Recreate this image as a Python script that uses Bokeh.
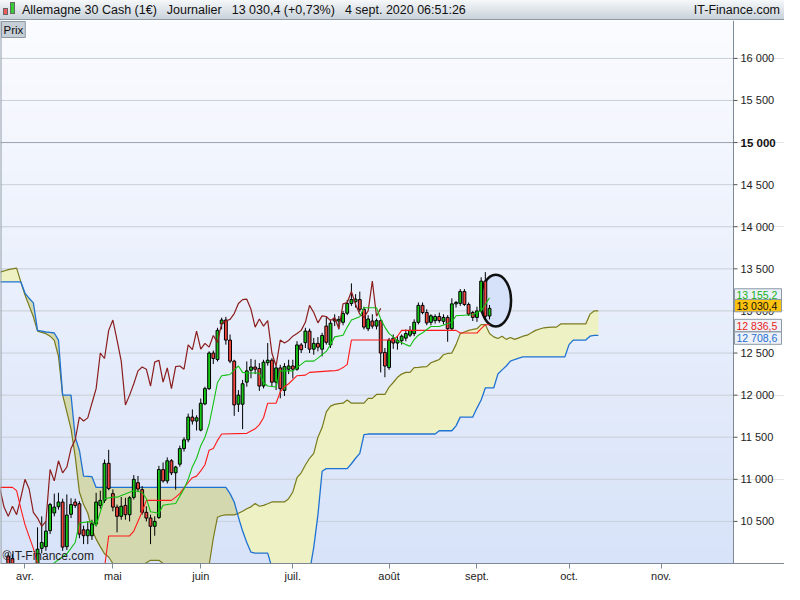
import numpy as np

from bokeh.core.properties import value
from bokeh.embed import file_html
from bokeh.layouts import column
from bokeh.models import ColumnDataSource, Div, FixedTicker, Label, Range1d
from bokeh.plotting import figure
from bokeh.resources import INLINE

FONT = "Liberation Sans"

# session index: 0 = 1 April 2020, one step per trading day
first_idx = -5

opens = [
    9700, 10090, 10060, 9650, 9820, 9900, 9550, 9600, 9800, 10180,
    10200, 10390, 10600, 10675, 10730, 10200, 10585, 10730, 10710, 10400,
    10330, 10330, 10470, 10690, 10750, 11190, 10830, 10670, 10560, 10690,
    10580, 10785, 10960, 10877, 10608, 10540, 10442, 10546, 11116, 10981,
    11220, 11077, 11180, 11365, 11469, 11739, 11692, 11585, 11896, 12077,
    12500, 12423, 12846, 12892, 12654, 12404, 11892, 11892, 12154, 12296,
    12334, 12316, 12108, 12385, 12415, 12154, 12323, 12057, 12308, 12346,
    12308, 12596, 12623, 12761, 12546, 12615, 12546, 12820, 12596, 12900,
    12880, 12865, 12973, 13089, 13110, 13135, 13019, 12789, 12880, 12820,
    12885, 12508, 12327, 12677, 12619, 12646, 12677, 12712, 12731, 12865,
    13066, 12981, 12865, 12885, 12934, 12877, 12923, 12789, 13084, 13090,
    13231, 13077, 12981, 12923, 13000, 13354, 12940,
]
highs = [
    9990, 10130, 10110, 9900, 10000, 9950, 9700, 9700, 10430, 10560,
    10500, 10720, 10830, 10840, 10770, 10820, 10775, 10770, 10740, 10450,
    10500, 10520, 10840, 10865, 11235, 11350, 10880, 10700, 10790, 10780,
    10800, 11050, 11040, 10920, 10680, 10580, 10560, 11160, 11200, 11260,
    11240, 11160, 11400, 11500, 11780, 11830, 11760, 11960, 12100, 12520,
    12530, 12800, 12920, 12930, 12720, 12420, 12060, 12180, 12400, 12430,
    12420, 12380, 12420, 12619, 12440, 12350, 12360, 12380, 12420, 12420,
    12640, 12620, 12800, 12790, 12680, 12690, 12740, 12930, 12900, 12960,
    12940, 13000, 13130, 13327, 13200, 13230, 13050, 12950, 12960, 12910,
    12900, 12560, 12680, 12720, 12700, 12720, 12780, 12820, 12900, 13100,
    13100, 13020, 12960, 12960, 12980, 12960, 12950, 13150, 13120, 13260,
    13260, 13100, 13000, 13050, 13400, 13461, 13070,
]
lows = [
    9550, 9800, 9580, 9550, 9750, 9400, 9400, 9400, 9750, 10120,
    10150, 10350, 10560, 10640, 10150, 10160, 10540, 10660, 10300, 10230,
    10230, 10280, 10440, 10650, 10720, 10870, 10620, 10370, 10520, 10520,
    10500, 10760, 10850, 10580, 10500, 10230, 10330, 10530, 10960, 10950,
    11050, 10877, 11150, 11330, 11440, 11650, 11580, 11570, 11880, 12060,
    12370, 12400, 12780, 12600, 12380, 11754, 11800, 11596, 12100, 12200,
    12250, 12050, 12080, 12350, 12100, 12060, 11962, 11990, 12250, 12200,
    12290, 12500, 12560, 12500, 12480, 12520, 12460, 12600, 12560, 12820,
    12780, 12830, 12950, 13060, 13040, 12990, 12780, 12760, 12790, 12780,
    12270, 12212, 12300, 12550, 12540, 12600, 12640, 12690, 12700, 12840,
    12960, 12830, 12830, 12850, 12860, 12840, 12634, 12770, 13040, 13060,
    13060, 12940, 12880, 12870, 12980, 12900, 12900,
]
closes = [
    9900, 9950, 9620, 9820, 9940, 9550, 9600, 9500, 10170, 10250,
    10385, 10700, 10670, 10730, 10195, 10575, 10700, 10690, 10350, 10330,
    10400, 10470, 10730, 10750, 11190, 10890, 10670, 10560, 10680, 10580,
    10780, 11000, 10885, 10608, 10540, 10442, 10500, 11116, 10981, 11220,
    11077, 11146, 11365, 11469, 11739, 11692, 11730, 11904, 12077, 12500,
    12435, 12769, 12892, 12654, 12404, 11884, 12000, 12135, 12288, 12334,
    12308, 12108, 12392, 12415, 12154, 12323, 12077, 12339, 12346, 12308,
    12596, 12540, 12761, 12546, 12615, 12570, 12708, 12627, 12854, 12880,
    12900, 12969, 13089, 13135, 13140, 13019, 12808, 12904, 12820, 12885,
    12500, 12346, 12654, 12619, 12650, 12700, 12731, 12769, 12865, 13066,
    12981, 12858, 12942, 12934, 12885, 12923, 12789, 13084, 13100, 13231,
    13077, 12962, 12923, 13000, 13354, 12936.6, 13030.4,
]

# Tenkan-sen (green)
tenkan_idx = [
    4, 10, 12, 13, 16, 17, 18, 19, 21, 22, 25, 26, 28, 29, 30, 32, 33, 34, 36, 37,
    38, 39, 40, 41, 42, 43, 44, 45, 46, 47, 48, 49, 50, 51, 52, 53, 56, 57, 58, 60,
    61, 64, 66, 67, 69, 70, 71, 72, 73, 74, 76, 77, 78, 80, 81, 84, 85, 86, 87, 88,
    89, 91, 92, 93, 94, 95, 96, 97, 99, 102, 103, 107, 108, 109, 110, 111,
]
tenkan_val = [
    9900, 10115, 10250, 10481, 10500, 10450, 10615, 10770, 10788, 10788,
    10846, 10865, 10846, 10770, 10615, 10597, 10692, 10700, 10712, 10800,
    10885, 11000, 11150, 11250, 11400, 11500, 11654, 11900, 12150, 12231,
    12238, 12245, 12300, 12346, 12270, 12262, 12262, 12150, 12108, 12096,
    12288, 12288, 12365, 12404, 12404, 12440, 12481, 12519, 12600, 12692,
    12712, 12808, 12893, 12931, 13038, 13038, 12904, 12808, 12731, 12692,
    12646, 12600, 12580, 12660, 12712, 12740, 12780, 12815, 12815, 12865,
    12942, 12954, 12981, 13000, 13077, 13155.2,
]

# Kijun-sen (red)
kijun_idx = [
    -6, -3, -2, -1, 0, 1, 2, 3, 4, 18, 19, 20, 25, 26, 28, 29, 35, 36, 37, 38,
    39, 40, 41, 42, 43, 44, 45, 46, 47, 53, 55, 56, 57, 58, 60, 61, 62, 63, 65, 67,
    68, 73, 74, 75, 76, 77, 78, 88, 89, 90, 103, 104, 108, 109, 110, 111,
]
kijun_val = [
    10904, 10904, 10865, 10654, 10462, 10320, 10180, 10000, 9850, 9850,
    9950, 10327, 10327, 10385, 10615, 10750, 10750, 10788, 10830, 10900,
    10962, 11019, 11038, 11100, 11173, 11346, 11365, 11462, 11538, 11546,
    11600, 11650, 11731, 11904, 11904, 12039, 12100, 12135, 12231, 12238,
    12270, 12288, 12290, 12300, 12327, 12365, 12654, 12654, 12700, 12769,
    12769, 12738, 12738, 12790, 12836.5, 12836.5,
]

# Senkou spans, already shifted 26 sessions ahead (index -6 .. 137)
cloud_first = -6
span_a = [
    13462, 13475, 13490, 13500, 13508, 13346,
    13190, 13060, 12930, 12760, 12745, 12730, 12700, 12650, 12462, 12000,
    11800, 11600, 11269, 10850, 10700, 10600, 10400, 10290, 10200, 10115,
    10077, 10000, 9950, 9940, 9940, 9940, 9950, 9960, 9980, 10010,
    10038, 10038, 10038, 10000, 9950, 9900, 9900, 9900, 9900, 9900,
    9900, 9900, 9900, 9900, 9980, 10300, 10550, 10570, 10577, 10577,
    10577, 10596, 10620, 10650, 10673, 10712, 10680, 10690, 10710, 10731,
    10731, 10731, 10731, 10770, 10850, 11019, 11077, 11170, 11250, 11308,
    11500, 11615, 11800, 11870, 11890, 11900, 11904, 11942, 11904, 11904,
    11904, 11904, 11962, 11962, 12008, 12008, 12008, 12096, 12150, 12212,
    12250, 12270, 12270, 12327, 12330, 12335, 12339, 12385, 12404, 12423,
    12480, 12495, 12500, 12600, 12731, 12750, 12769, 12780, 12789, 12838,
    12838, 12731, 12692, 12673, 12700, 12662, 12685, 12662, 12680, 12700,
    12712, 12740, 12769, 12785, 12800, 12805, 12808, 12808, 12846, 12846,
    12846, 12846, 12846, 12846, 12846, 12962, 13000, 13000,
]
span_b = [
    13346, 13346, 13346, 13346, 13346, 13346,
    13212, 13150, 13096, 12769, 12760, 12750, 12745, 12738, 12654, 12000,
    12000, 12000, 11500, 11346, 11038, 11035, 11031, 10904, 10904, 10904,
    10904, 10904, 10904, 10904, 10904, 10904, 10904, 10904, 10904, 10904,
    10904, 10904, 10904, 10904, 10904, 10904, 10904, 10904, 10904, 10904,
    10904, 10904, 10904, 10904, 10904, 10904, 10904, 10904, 10904, 10830,
    10731, 10550, 10385, 10250, 10135, 10123, 10123, 10123, 10123, 9950,
    9900, 9900, 9900, 9900, 9900, 9900, 9900, 9900, 9900, 10192,
    10577, 11096, 11127, 11127, 11127, 11127, 11127, 11127, 11185, 11250,
    11308, 11531, 11538, 11538, 11538, 11538, 11538, 11538, 11538, 11538,
    11538, 11538, 11538, 11538, 11538, 11538, 11538, 11538, 11538, 11577,
    11577, 11577, 11577, 11635, 11739, 11739, 11739, 11739, 11846, 11942,
    12085, 12085, 12085, 12250, 12300, 12346, 12404, 12423, 12440, 12454,
    12454, 12454, 12454, 12454, 12454, 12454, 12454, 12454, 12454, 12454,
    12600, 12654, 12654, 12654, 12654, 12700, 12708.6, 12708.6,
]

chikou_shift = 26

y_ticks = [10500, 11000, 11500, 12000, 12500, 13000, 13500, 14000, 14500, 15000, 15500, 16000]
major_level = 15000
month_idx = [0, 21, 42, 64, 87, 108, 130, 152]
month_labels = ["avr.", "mai", "juin", "juil.", "août", "sept.", "oct.", "nov."]

# highlight drawn round the last sessions
ring_x, ring_y, ring_w, ring_h = 112.5, 13123, 7.3, 615


def fr(v, dec=0):
    s = f"{v:,.{dec}f}"
    return s.replace(",", " ").replace(".", ",")


W, H = 784, 564
px = 4.185                      # pixels per session
x_lo, x_main = -5.85, 169.3     # price area; the rest is the price scale
x_hi = x_lo + W / px
y_lo, y_hi = 10000, 16450
pt = (y_hi - y_lo) / 544        # price units per pixel

p = figure(
    width=W, height=H,
    x_range=Range1d(x_lo, x_hi), y_range=Range1d(y_lo, y_hi),
    y_axis_location=None,
    output_backend="svg", toolbar_location=None,
    min_border_left=0, min_border_right=0, min_border_top=0, min_border_bottom=20,
    border_fill_color="white", background_fill_color="white", outline_line_color=None,
)

# soft vertical gradient behind the price area
ny = 200
t = np.linspace(0, 1, ny)[:, None]
c_bot = np.array([0xd8, 0xe3, 0xf9])
c_top = np.array([0xfb, 0xfc, 0xff])
rgb = c_bot * (1 - t) + c_top * t
img = np.empty((ny, 1), dtype=np.uint32)
view = img.view(dtype=np.uint8).reshape((ny, 1, 4))
view[:, 0, :3] = rgb.astype(np.uint8)
view[:, 0, 3] = 255
p.image_rgba(image=[img], x=x_lo, y=y_lo, dw=x_main - x_lo, dh=y_hi - y_lo, level="image")

# x axis (months)
p.xaxis.ticker = FixedTicker(ticks=month_idx)
p.xaxis.major_label_overrides = dict(zip(month_idx, month_labels))
p.xaxis.major_label_text_font = FONT
p.xaxis.major_label_text_font_size = "11px"
p.xaxis.major_label_text_color = "#222222"
p.xaxis.major_tick_in = 0
p.xaxis.major_tick_out = 5
p.xaxis.major_label_standoff = 1
p.xaxis.minor_tick_line_color = None
p.xaxis.axis_line_color = "#7d8a96"
p.xaxis.major_tick_line_color = "#7d8a96"
p.xgrid.visible = False

# horizontal grid over the price area only
grid_col = ["#9aa3ad" if v == major_level else "#c9d0da" for v in y_ticks]
p.segment(x0=x_lo, x1=x_main, y0=y_ticks, y1=y_ticks, line_color=grid_col, line_width=1)

# cloud
cx = np.arange(cloud_first, cloud_first + len(span_a))
sa = np.array(span_a, dtype=float)
sb = np.array(span_b, dtype=float)
top = np.maximum(sa, sb)
p.varea(x=cx, y1=sb, y2=top, fill_color="#eef1c0", fill_alpha=0.95)
p.varea(x=cx, y1=sa, y2=top, fill_color="#d3d7aa", fill_alpha=0.95)
p.line(cx, sa, line_color="#7a7a1c", line_width=1.2)
p.line(cx, sb, line_color="#1f72d2", line_width=1.3)

# highlight ring
p.ellipse(x=[ring_x], y=[ring_y], width=[ring_w], height=[ring_h],
          fill_color="#d4dffa", fill_alpha=0.9, line_color="#111111", line_width=2.5)

# candles
idx = np.arange(first_idx, first_idx + len(closes))
o = np.array(opens, dtype=float)
h = np.array(highs, dtype=float)
lo = np.array(lows, dtype=float)
c = np.array(closes, dtype=float)
up = c >= o
for mask, colour in ((up, "#16c816"), (~up, "#f2463f")):
    src = ColumnDataSource(dict(x=idx[mask], high=h[mask], low=lo[mask],
                                top=np.maximum(o, c)[mask], bottom=np.minimum(o, c)[mask]))
    p.segment(x0="x", y0="low", x1="x", y1="high", source=src, line_color="black", line_width=1)
    p.vbar(x="x", width=0.68, top="top", bottom="bottom", source=src,
           fill_color=colour, line_color="black", line_width=1)

# Chikou span: closes moved back 26 sessions
p.line(idx - chikou_shift, c, line_color="#8b1d1d", line_width=1.2)
p.line(kijun_idx, kijun_val, line_color="#ff1a1a", line_width=1.1)
p.line(tenkan_idx, tenkan_val, line_color="#12c012", line_width=1.1)

# left border and price scale drawn by hand
p.segment(x0=x_lo, x1=x_lo, y0=y_lo, y1=y_hi, line_color="#8d9aa6", line_width=2)
p.segment(x0=x_main, x1=x_main, y0=y_lo, y1=y_hi, line_color="#7d8a96", line_width=1)
p.segment(x0=x_main, x1=x_main + 4 / px, y0=y_ticks, y1=y_ticks, line_color="#555555")
plain = [v for v in y_ticks if v != major_level]
p.text(x=x_main + 7 / px, y=plain, text=[fr(v) for v in plain],
       text_font=value(FONT), text_font_size="11px", text_color="#222222",
       text_baseline="middle", text_align="left")
p.text(x=[x_main + 7 / px], y=[major_level], text=[fr(major_level)],
       text_font=value(FONT), text_font_size="11.5px", text_font_style="bold",
       text_color="#111111", text_baseline="middle", text_align="left")

# right-hand price tags (position nudged so they do not overlap)
tag_val = [tenkan_val[-1], closes[-1], kijun_val[-1], span_b[-1]]
tag_pos = [13190, 13063, 12827, 12677]
tag_text_col = ["#15b015", "#111111", "#e81c1c", "#1f6fd0"]
tag_fill = ["#eaf0f8", "#ffc20e", "#eef2f8", "#eef2f8"]
half = 6.2 * pt
p.quad(left=x_main + 1 / px, right=x_main + 48 / px,
       bottom=[v - half for v in tag_pos], top=[v + half for v in tag_pos],
       fill_color=tag_fill, line_color="#8d9aa6", line_width=1)
p.text(x=x_main + 3 / px, y=tag_pos, text=[fr(v, 1) for v in tag_val],
       text_font=value(FONT), text_font_size="10.5px", text_color=tag_text_col,
       text_baseline="middle", text_align="left")

p.add_layout(Label(x=x_lo, y=y_hi, x_offset=1, y_offset=-1, text="Prix", text_font=FONT,
                   text_font_size="11.5px", text_color="#111111", text_baseline="top",
                   text_align="left", background_fill_color="#c6ced6",
                   border_line_color="#8d9aa6", padding=2))

p.add_layout(Label(x=x_lo, y=y_lo, x_offset=2, y_offset=1, text="©IT-Finance.com",
                   text_font=FONT, text_font_size="12px", text_color="#222222",
                   text_baseline="bottom", text_align="left"))

chg = (closes[-1] / closes[-2] - 1) * 100
chg_txt = f"{chg:+.2f}".replace(".", ",")
header_html = (
    '<div style="position:relative;width:784px;height:20px;box-sizing:border-box;'
    'background:linear-gradient(#f6f8fa,#c9d2da);border-bottom:1px solid #8d9aa6;'
    "font-family:'Liberation Sans',Arial,sans-serif;font-size:12.5px;color:#111;"
    'white-space:nowrap;">'
    '<span style="position:absolute;left:3px;top:8px;width:5px;height:7px;'
    'background:#f05a5a;border:1px solid #666;"></span>'
    '<span style="position:absolute;left:10px;top:2px;width:5px;height:12px;'
    'background:#36cc36;border:1px solid #666;"></span>'
    '<span style="position:absolute;left:22px;top:2px;">'
    'Allemagne 30 Cash (1€)'
    '<span style="margin-left:10px">Journalier</span>'
    f'<span style="margin-left:10px">{fr(closes[-1], 1)} ({chg_txt}%)</span>'
    '<span style="margin-left:10px">4 sept. 2020 06:51:26</span></span>'
    '<span style="position:absolute;right:4px;top:2px;">IT-Finance.com</span>'
    '</div>'
)
header = Div(text=header_html, width=W, height=20, margin=(0, 0, 0, 0))

layout = column(header, p, spacing=0)
open("out.html", "w").write(file_html(layout, INLINE))
